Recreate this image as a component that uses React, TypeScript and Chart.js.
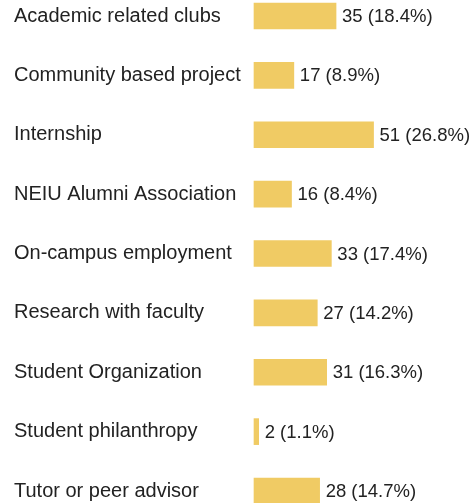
import React, { useEffect, useRef } from "react";
import { Chart, registerables } from "chart.js";

Chart.register(...registerables);

const categories = [
  "Academic related clubs",
  "Community based project",
  "Internship",
  "NEIU Alumni Association",
  "On-campus employment",
  "Research with faculty",
  "Student Organization",
  "Student philanthropy",
  "Tutor or peer advisor",
];
const counts = [35, 17, 51, 16, 33, 27, 31, 2, 28];
const percents = ["18.4", "8.9", "26.8", "8.4", "17.4", "14.2", "16.3", "1.1", "14.7"];

const FONT = "'Liberation Sans', Arial, sans-serif";
const BAR_COLOR = "rgb(240,203,100)";
const TEXT_COLOR = "#222222";

const valueLabels = {
  id: "valueLabels",
  afterDatasetsDraw(chart: any) {
    const ctx = chart.ctx;
    const meta = chart.getDatasetMeta(0);
    ctx.save();
    ctx.font = `18.5px ${FONT}`;
    ctx.fillStyle = TEXT_COLOR;
    ctx.textAlign = "left";
    ctx.textBaseline = "middle";
    meta.data.forEach((bar: any, i: number) => {
      ctx.fillText(`${counts[i]} (${percents[i]}%)`, bar.x + 6, bar.y + 1);
    });
    ctx.restore();
  },
};

export default function App() {
  const ref = useRef<HTMLCanvasElement>(null);
  useEffect(() => {
    if (!ref.current) return;
    const chart = new Chart(ref.current, {
      type: "bar",
      data: {
        labels: categories,
        datasets: [
          {
            data: counts,
            backgroundColor: BAR_COLOR,
            borderWidth: 0,
            barThickness: 26,
            clip: false as any,
          },
        ],
      },
      options: {
        indexAxis: "y",
        animation: false,
        responsive: false,
        maintainAspectRatio: false,
        layout: { padding: { left: 14, right: 0, top: 16, bottom: 12 } },
        plugins: { legend: { display: false }, tooltip: { enabled: false } },
        scales: {
          x: { display: false, min: 0, max: 93 },
          y: {
            offset: false,
            grid: { display: false, drawTicks: false },
            border: { display: false },
            ticks: {
              crossAlign: "far",
              color: TEXT_COLOR,
              font: { family: FONT, size: 20 },
              padding: 0,
            },
            afterFit: (scale: any) => {
              scale.width = 240;
            },
          },
        },
      },
      plugins: [valueLabels],
    });
    return () => chart.destroy();
  }, []);
  return (
    <div style={{ position: "fixed", left: 0, top: 0, width: 472, height: 503, background: "#fff" }}>
      <canvas ref={ref} width={472} height={503} style={{ width: 472, height: 503 }} />
    </div>
  );
}
